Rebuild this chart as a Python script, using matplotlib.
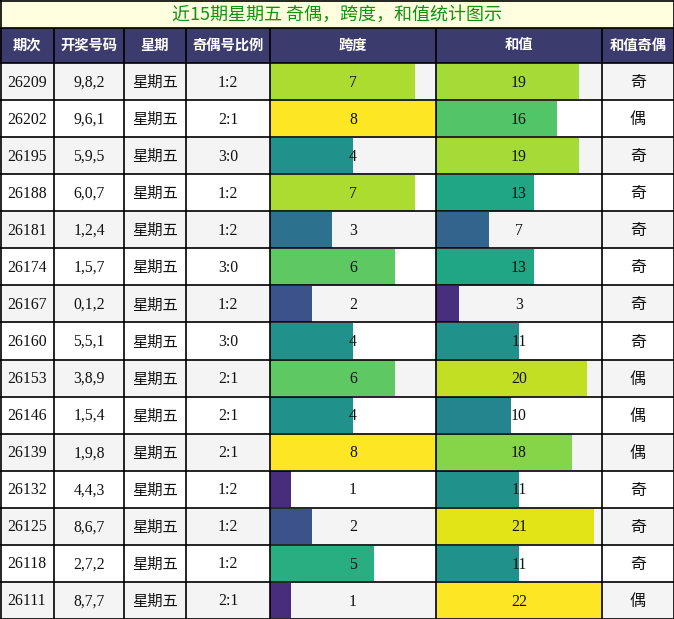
#!/usr/bin/env python3
"""Friday draws: odd/even, span and sum table with in-cell bars."""
import matplotlib
matplotlib.use("Agg")
import matplotlib.pyplot as plt
from matplotlib.patches import Rectangle

# ---- data ----
title = "近15期星期五 奇偶，跨度，和值统计图示"
headers = ["期次", "开奖号码", "星期", "奇偶号比例", "跨度", "和值", "和值奇偶"]
issues = ["26209", "26202", "26195", "26188", "26181", "26174", "26167", "26160",
          "26153", "26146", "26139", "26132", "26125", "26118", "26111"]
numbers = ["9,8,2", "9,6,1", "5,9,5", "6,0,7", "1,2,4", "1,5,7", "0,1,2", "5,5,1",
           "3,8,9", "1,5,4", "1,9,8", "4,4,3", "8,6,7", "2,7,2", "8,7,7"]
weekday = ["星期五"] * 15
ratios = ["1:2", "2:1", "3:0", "1:2", "1:2", "3:0", "1:2", "3:0",
          "2:1", "2:1", "2:1", "1:2", "1:2", "1:2", "2:1"]
spans = [7, 8, 4, 7, 3, 6, 2, 4, 6, 4, 8, 1, 2, 5, 1]
sums = [19, 16, 19, 13, 7, 13, 3, 11, 20, 10, 18, 11, 21, 11, 22]
sum_parity = ["奇", "偶", "奇", "奇", "奇", "奇", "奇", "奇",
              "偶", "偶", "偶", "奇", "奇", "奇", "偶"]

# ---- layout (pixels) ----
W, H = 674, 619
col_edges = [0, 54, 124, 186, 270, 436, 602, 674]
title_h, head_h = 28, 35
body_top = title_h + head_h
row_h = (H - body_top) / len(issues)

CJK = ["Noto Sans CJK SC", "DejaVu Sans"]
SERIF = ["Liberation Serif", "DejaVu Serif"]
HEAD_BG = "#3c3b6e"
ROW_BG = ["#f4f4f4", "#ffffff"]
LW = 1.2

fig = plt.figure(figsize=(W / 100, H / 100), dpi=100)
ax = fig.add_axes([0, 0, 1, 1], zorder=0)
ax.set_xlim(0, W); ax.set_ylim(H, 0); ax.axis("off")

# title strip
ax.add_patch(Rectangle((0, 0), W, title_h, facecolor="#ffffe0", edgecolor="none"))
ax.text(W / 2, title_h / 2 + 1, title, ha="center", va="center", color="#119111",
        fontsize=13, family=CJK)

# header
ax.add_patch(Rectangle((0, title_h), W, head_h, facecolor=HEAD_BG, edgecolor="none"))
for i, h in enumerate(headers):
    xc = (col_edges[i] + col_edges[i + 1]) / 2
    ax.text(xc, title_h + head_h / 2, h, ha="center", va="center", color="white",
            fontsize=10.3, fontweight="bold", family=CJK)

# body backgrounds + plain text columns
text_cols = [(0, issues, SERIF, 11.3), (1, numbers, SERIF, 11.3),
             (2, weekday, CJK, 11), (3, ratios, SERIF, 11.3), (6, sum_parity, CJK, 11.5)]
for r in range(len(issues)):
    y0 = body_top + r * row_h
    ax.add_patch(Rectangle((0, y0), W, row_h, facecolor=ROW_BG[r % 2], edgecolor="none"))
    for c, vals, fam, fs in text_cols:
        xc = (col_edges[c] + col_edges[c + 1]) / 2
        ax.text(xc, y0 + row_h / 2 + 1, vals[r], ha="center", va="center",
                color="#111111", fontsize=fs, family=fam)

# bar columns
cmap = plt.get_cmap("viridis")
for c, vals in [(4, spans), (5, sums)]:
    x0, x1 = col_edges[c], col_edges[c + 1]
    bax = fig.add_axes([x0 / W, 0, (x1 - x0) / W, (H - body_top) / H], zorder=1)
    bax.patch.set_alpha(0)
    vmax = max(vals)
    bax.set_xlim(0, vmax); bax.set_ylim(len(vals), 0); bax.axis("off")
    ys = [r + 0.5 for r in range(len(vals))]
    bax.barh(ys, vals, height=0.96, color=[cmap(v / vmax) for v in vals],
             edgecolor="none")
    for y, v in zip(ys, vals):
        bax.text(vmax / 2, y + 0.03, str(v), ha="center", va="center",
                 color="#111111", fontsize=11.3, family=SERIF)

# grid lines on top
gax = fig.add_axes([0, 0, 1, 1], zorder=2)
gax.patch.set_alpha(0)
gax.set_xlim(0, W); gax.set_ylim(H, 0); gax.axis("off")
hy = [0.5, title_h, body_top] + [body_top + r * row_h for r in range(1, len(issues))] + [H - 0.5]
gax.hlines(hy, 0, W, colors="black", linewidth=LW)
gax.vlines(col_edges[1:-1], title_h, H, colors="black", linewidth=LW)
gax.vlines([0.5, W - 0.5], 0, H, colors="black", linewidth=LW)

fig.savefig("out.png", dpi=100)
